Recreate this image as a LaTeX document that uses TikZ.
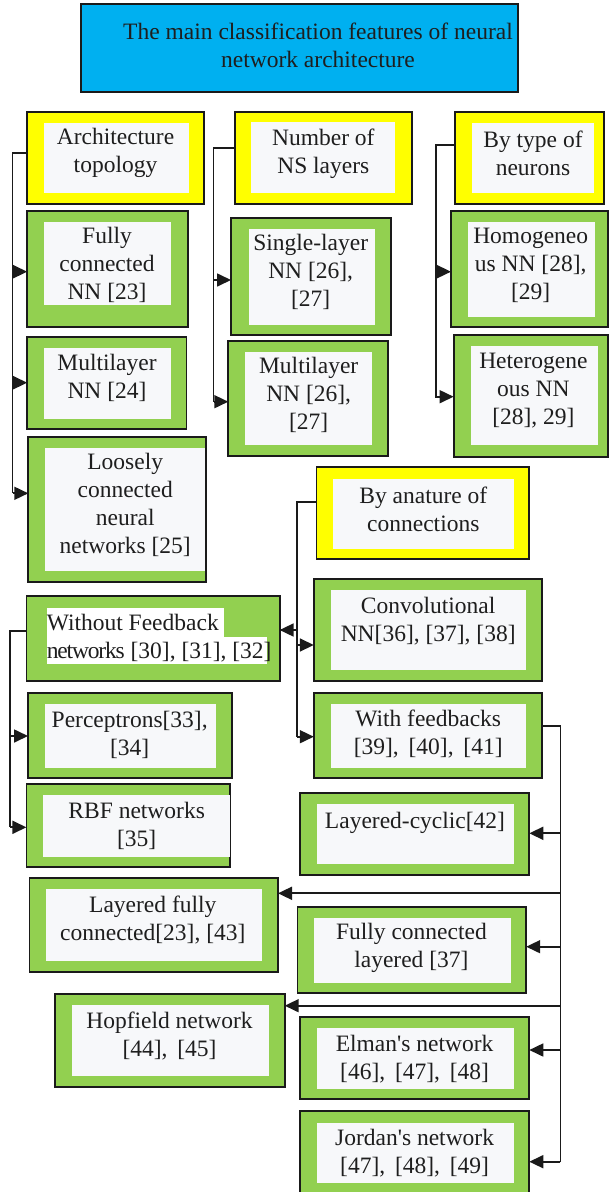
\documentclass[tikz,border=0pt]{standalone}
\usepackage{fontspec}
\setmainfont{Liberation Serif}[Ligatures=TeXOff]
\newfontfamily\tnr{Liberation Serif}[Ligatures=TeXOff]
\usetikzlibrary{arrows.meta}
\definecolor{boxgreen}{HTML}{92D050}
\definecolor{boxyellow}{HTML}{FFFF00}
\definecolor{boxcyan}{HTML}{00B0F0}
\definecolor{innerw}{HTML}{F7F8FA}
\definecolor{txtc}{HTML}{1E1E1E}
\definecolor{edgec}{HTML}{1A1A1A}
\newcommand\fs{\tnr\fontsize{23.5}{28}\selectfont}
\tikzset{
  box/.style={draw=edgec, line width=1.8pt, anchor=north west, inner sep=0pt, outer sep=0pt},
  gbox/.style={box, fill=boxgreen},
  ybox/.style={box, fill=boxyellow},
  cbox/.style={box, fill=boxcyan, line width=2.2pt},
  txt/.style={font=\fs, text=txtc, align=center, inner sep=0pt, yshift=-1.5pt},
  ln/.style={line width=1.7pt, draw=edgec},
  arr/.style={line width=1.7pt, draw=edgec, -{Triangle[length=14pt,width=13pt]}},
}
% name, style, x1, y1, x2, y2
\newcommand\mkbox[6]{\node[#2, minimum width={(#5-#3)*1pt}, minimum height={(#6-#4)*1pt}] (#1) at (#3,#4) {};}
\newcommand\inr[4]{\fill[innerw] (#1,#2) rectangle (#3,#4);}
\begin{document}
\begin{tikzpicture}[x=1pt,y=-1pt]
\useasboundingbox (0,0) rectangle (609,1192);
% title
\mkbox{title}{cbox}{81}{4}{518}{92}
\node[txt] (ttitle) at (318,43.7) {The main classification features of neural\\network architecture};
% yellow headers
\mkbox{yb1}{ybox}{27.2}{111.7}{204}{204}
\inr{44}{123}{189}{193}
\node[txt] (tyb1) at (115.5,151.5) {Architecture\\topology};
\mkbox{yb2}{ybox}{235}{112}{411.7}{204}
\inr{250.5}{122}{395.3}{193}
\node[txt] (tyb2) at (323.3,152) {Number of\\NS layers};
\mkbox{yb3}{ybox}{455}{112}{604}{204}
\inr{472}{123}{594}{193}
\node[txt] (tyb3) at (533,151.5) {By type of\\neurons};
% column 1
\mkbox{fc}{gbox}{27.2}{210.7}{187.6}{327.3}
\inr{44}{222}{171}{304.7}
\node[txt] (tfc) at (107,263.6) {Fully\\connected\\NN [23]};
\mkbox{mla}{gbox}{27.2}{336.7}{186.4}{429.3}
\inr{44}{348}{171}{419}
\node[txt] (tmla) at (107,376.7) {Multilayer\\NN [24]};
\mkbox{lc}{gbox}{28.3}{436.7}{205.8}{581.7}
\inr{44.7}{448}{205}{570.7}
\node[txt] (tlc) at (125.2,503.5) {Loosely\\connected\\neural\\networks [25]};
% column 2
\mkbox{sl}{gbox}{231}{218.3}{391}{335}
\inr{248.5}{229}{375}{324.7}
\node[txt] (tsl) at (310.7,270.8) {Single-layer\\NN [26],\\{[27]}};
\mkbox{mlb}{gbox}{228.3}{340.7}{388.3}{456}
\inr{245.4}{352}{372}{445}
\node[txt] (tmlb) at (308.7,393.6) {Multilayer\\NN [26],\\{[27]}};
% column 3
\mkbox{hom}{gbox}{451}{210.7}{607.8}{327.3}
\inr{468}{222}{595}{316.7}
\node[txt] (thom) at (530.7,263.9) {Homogeneo\\us NN [28],\\{[29]}};
\mkbox{het}{gbox}{453.6}{335}{607.8}{456.7}
\inr{471}{346}{598}{445}
\node[txt] (thet) at (533.4,388.7) {Heterogene\\ous NN\\{[28]}, 29]};
% nature of connections
\mkbox{nat}{ybox}{316.5}{467.3}{529.3}{559.3}
\inr{333}{479.3}{513.8}{549}
\node[txt] (tnat) at (423.3,507.5) {By anature of\\connections};
\mkbox{wf}{gbox}{26.4}{596}{279.6}{680.7}
\fill[white] (46.6,608) rectangle (224,637);
\fill[white] (46.6,636.5) rectangle (266.8,664);
\node[txt, align=left, anchor=west] (twf) at (46.6,636.7) {Without Feedback\\{\addfontfeature{LetterSpace=-5}networks}\ [30], [31], [32]};
\mkbox{conv}{gbox}{313.8}{579.3}{542}{680.7}
\inr{331}{590}{525.8}{670}
\node[txt] (tconv) at (428.2,619.5) {Convolutional\\NN[36], [37], [38]};
\mkbox{perc}{gbox}{28}{693.3}{231.8}{778.3}
\inr{44.7}{704}{215.5}{767.7}
\node[txt] (tperc) at (129.7,733) {Perceptrons[33],\\{[34]}};
\mkbox{wfb}{gbox}{313.8}{693.3}{542}{778.3}
\inr{331}{704}{525.8}{767.7}
\node[txt] (twfb) at (428.2,733) {With feedbacks\\{[39]},\ \,[40],\ \,[41]};
\mkbox{rbf}{gbox}{26.4}{784.3}{230.3}{866.7}
\inr{42.7}{795}{230.3}{856.7}
\node[txt] (trbf) at (136.7,824.2) {RBF networks\\{[35]}};
\mkbox{lcy}{gbox}{300.2}{793.3}{529.3}{875}
\inr{316.5}{804}{513.8}{864.3}
\node[txt] (tlcy) at (415,821.7) {Layered-cyclic[42]};
\mkbox{lfc}{gbox}{29.5}{878.3}{278}{971.7}
\inr{45.8}{889}{262}{960.7}
\node[txt] (tlfc) at (152.8,918.8) {Layered fully\\connected[23], [43]};
\mkbox{fcl}{gbox}{297.5}{906.7}{526.2}{993.3}
\inr{313.8}{917.7}{511}{983.3}
\node[txt] (tfcl) at (411.4,946.7) {Fully connected\\layered [37]};
\mkbox{hop}{gbox}{55}{994}{284.7}{1086.7}
\inr{71.8}{1005}{269}{1076}
\node[txt] (thop) at (169.5,1034.7) {Hopfield network\\{[44]},\ \,[45]};
\mkbox{elm}{gbox}{300.2}{1017.3}{529.3}{1099}
\inr{316.5}{1028.3}{513.8}{1089}
\node[txt] (telm) at (414.6,1057.2) {Elman's network\\{[46]},\ \,[47],\ \,[48]};
\mkbox{jor}{gbox}{300.2}{1111}{529.3}{1196}
\inr{316.5}{1123.3}{513.8}{1182.7}
\node[txt] (tjor) at (414.6,1151.2) {Jordan's network\\{[47]},\ \,[48],\ \,[49]};
% ---------- connectors ----------
% column 1
\coordinate (c1t) at (12.5,152.7);
\coordinate (c1a) at (12.5,271.7);
\coordinate (c1b) at (12.5,382.7);
\coordinate (c1c) at (12.5,493.3);
\draw[ln] (c1t -| yb1.west) -- (c1t) -- (c1c);
\draw[arr] (c1a) -- (c1a -| fc.west);
\draw[arr] (c1b) -- (c1b -| mla.west);
\draw[arr] (c1c) -- (c1c -| lc.west);
% column 2
\coordinate (c2t) at (213.6,147.7);
\coordinate (c2a) at (213.6,280);
\coordinate (c2b) at (213.6,401.7);
\draw[ln] (c2t -| yb2.west) -- (c2t) -- (c2b);
\draw[arr] (c2a) -- (c2a -| sl.west);
\draw[arr] (c2b) -- (c2b -| mlb.west);
% column 3
\coordinate (c3t) at (436,145);
\coordinate (c3a) at (436,271.7);
\coordinate (c3b) at (436,396.7);
\draw[ln] (c3t -| yb3.west) -- (c3t) -- ([yshift=-1.5pt]c3b);
\draw[arr] (c3a) -- (c3a -| hom.west);
\draw[arr] (c3b) -- (c3b -| het.west);
% nature of connections
\coordinate (c4t) at (297,501.7);
\coordinate (c4w) at (297,630);
\coordinate (c4a) at (297,645);
\coordinate (c4b) at (297,736.7);
\draw[ln] (c4t -| nat.west) -- (c4t) -- (c4b);
\draw[arr] (c4w) -- (c4w -| wf.east);
\draw[arr] (c4a) -- (c4a -| conv.west);
\draw[arr] (c4b) -- (c4b -| wfb.west);
% without feedback
\coordinate (c5t) at (10,630.7);
\coordinate (c5a) at (10,736);
\coordinate (c5b) at (10,827.3);
\draw[ln] (c5t -| wf.west) -- (c5t) -- (c5b);
\draw[arr] (c5a) -- (c5a -| perc.west);
\draw[arr] (c5b) -- (c5b -| rbf.west);
% with feedbacks
\coordinate (c6t) at (560.4,726);
\coordinate (c6a) at (560.4,833.3);
\coordinate (c6b) at (560.4,893.3);
\coordinate (c6c) at (560.4,946.7);
\coordinate (c6d) at (560.4,1005.7);
\coordinate (c6e) at (560.4,1050);
\coordinate (c6f) at (560.4,1161.7);
\draw[ln] (c6t -| wfb.east) -- (c6t) -- (c6f);
\draw[arr] (c6a) -- (c6a -| lcy.east);
\draw[arr] (c6b) -- (c6b -| lfc.east);
\draw[arr] (c6c) -- (c6c -| fcl.east);
\draw[arr] (c6d) -- (c6d -| hop.east);
\draw[arr] (c6e) -- (c6e -| elm.east);
\draw[arr] (c6f) -- (c6f -| jor.east);
\end{tikzpicture}
\end{document}
